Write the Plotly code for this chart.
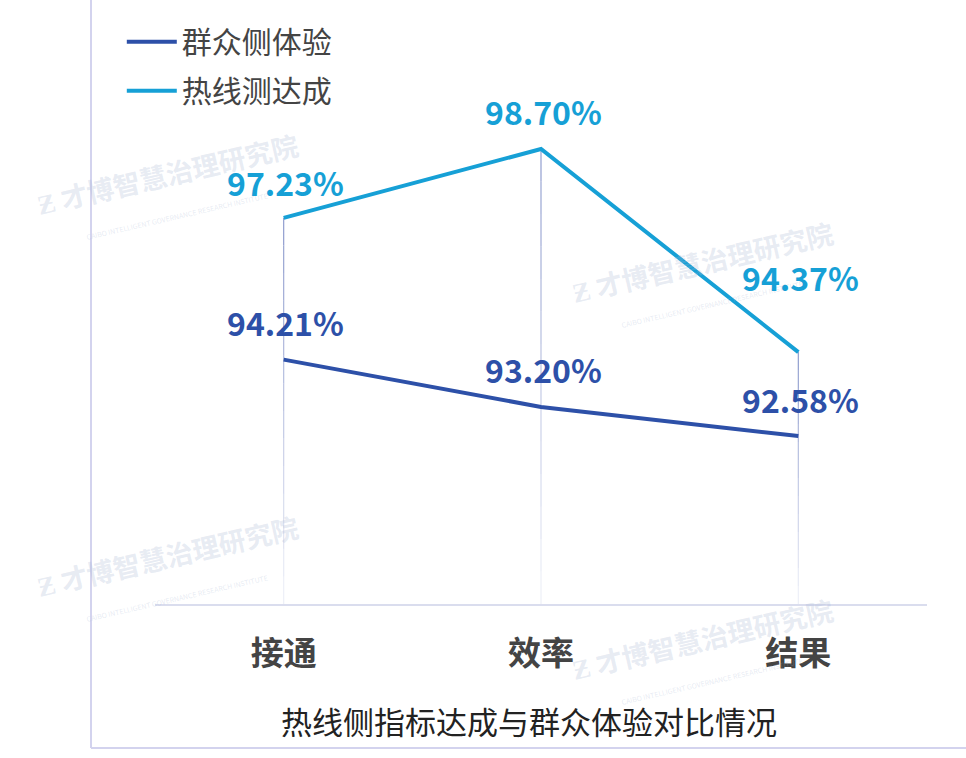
import plotly.graph_objects as go

categories = ["接通", "效率", "结果"]
series_names = ["群众侧体验", "热线测达成"]
crowd_values = [94.21, 93.20, 92.58]
hotline_values = [97.23, 98.70, 94.37]
axis_title = "热线侧指标达成与群众体验对比情况"

colors = {"群众侧体验": "#2D50A8", "热线测达成": "#16A0D6"}
label_shift = {"群众侧体验": [38, 38, 37], "热线测达成": [36, 38, 75]}

FONT = "Noto Sans CJK SC"
y_min, y_max = 89.0, 100.0

fig = go.Figure()

# drop lines (fading) from the higher point down to the axis
n_seg = 14
for i, cat in enumerate(categories):
    top = max(crowd_values[i], hotline_values[i])
    for k in range(n_seg):
        a = y_min + (top - y_min) * k / n_seg
        b = y_min + (top - y_min) * (k + 1) / n_seg
        op = 0.08 + 0.8 * (k + 1) / n_seg
        fig.add_trace(go.Scatter(
            x=[cat, cat], y=[a, b], mode="lines",
            line=dict(color=f"rgba(130,145,200,{op:.2f})", width=1.2),
            showlegend=False, hoverinfo="skip"))

# watermarks
for (wx, wy) in [(170, 188), (705, 276), (170, 570), (705, 653)]:
    fig.add_annotation(
        xref="paper", yref="paper", xanchor="center", yanchor="middle",
        x=(wx - 155) / 772, y=(604 - wy) / 516,
        text="<b>Ƶ 才博智慧治理研究院</b><br><span style='font-size:7px'>CAIBO INTELLIGENT GOVERNANCE RESEARCH INSTITUTE</span>",
        showarrow=False, textangle=-13,
        font=dict(family=FONT, size=27, color="rgba(165,180,210,0.27)"))

for name, vals in [("群众侧体验", crowd_values), ("热线测达成", hotline_values)]:
    fig.add_trace(go.Scatter(
        x=categories, y=vals, mode="lines", name=name, legendgroup=name,
        line=dict(color=colors[name], width=4)))
    for i, v in enumerate(vals):
        fig.add_annotation(
            x=categories[i], y=v, text=f"{v:.2f}%", showarrow=False,
            xanchor="center", yanchor="middle",
            yshift=label_shift[name][i], xshift=2,
            font=dict(family=FONT, size=32, color=colors[name], weight="bold"))

fig.add_annotation(
    xref="paper", yref="paper", x=0.484, y=-0.225, yanchor="middle", xanchor="center",
    text=axis_title, showarrow=False,
    font=dict(family=FONT, size=31, color="#222222"))

# outer frame lines
fig.add_shape(type="line", xref="paper", yref="paper",
              x0=(91 - 155) / 772, x1=(91 - 155) / 772, y0=(604 - 748) / 516, y1=(604 + 20) / 516,
              line=dict(color="#D3D3EE", width=2))
fig.add_shape(type="line", xref="paper", yref="paper",
              x0=(91 - 155) / 772, x1=(990 - 155) / 772, y0=(604 - 748) / 516, y1=(604 - 748) / 516,
              line=dict(color="#D3D3EE", width=2))

fig.update_layout(
    width=966, height=758,
    margin=dict(l=155, r=39, t=88, b=154, autoexpand=False),
    paper_bgcolor="white", plot_bgcolor="white",
    font=dict(family=FONT, color="#444444"),
    legend=dict(x=-0.043, y=1.14, xanchor="left", yanchor="top",
                font=dict(family=FONT, size=30, color="#444444"),
                bgcolor="rgba(0,0,0,0)", tracegroupgap=7, itemwidth=50),
    xaxis=dict(type="category", range=[-0.5, 2.5], showgrid=False, zeroline=False,
               showline=True, linecolor="#DADDEE", linewidth=1.5, automargin=False,
               ticks="", tickfont=dict(family=FONT, size=33, color="#444444", weight="bold"),
               ticklabelstandoff=20),
    yaxis=dict(range=[y_min, y_max], visible=False, showgrid=False, zeroline=False,
               automargin=False),
)

fig.write_html("out.html")
